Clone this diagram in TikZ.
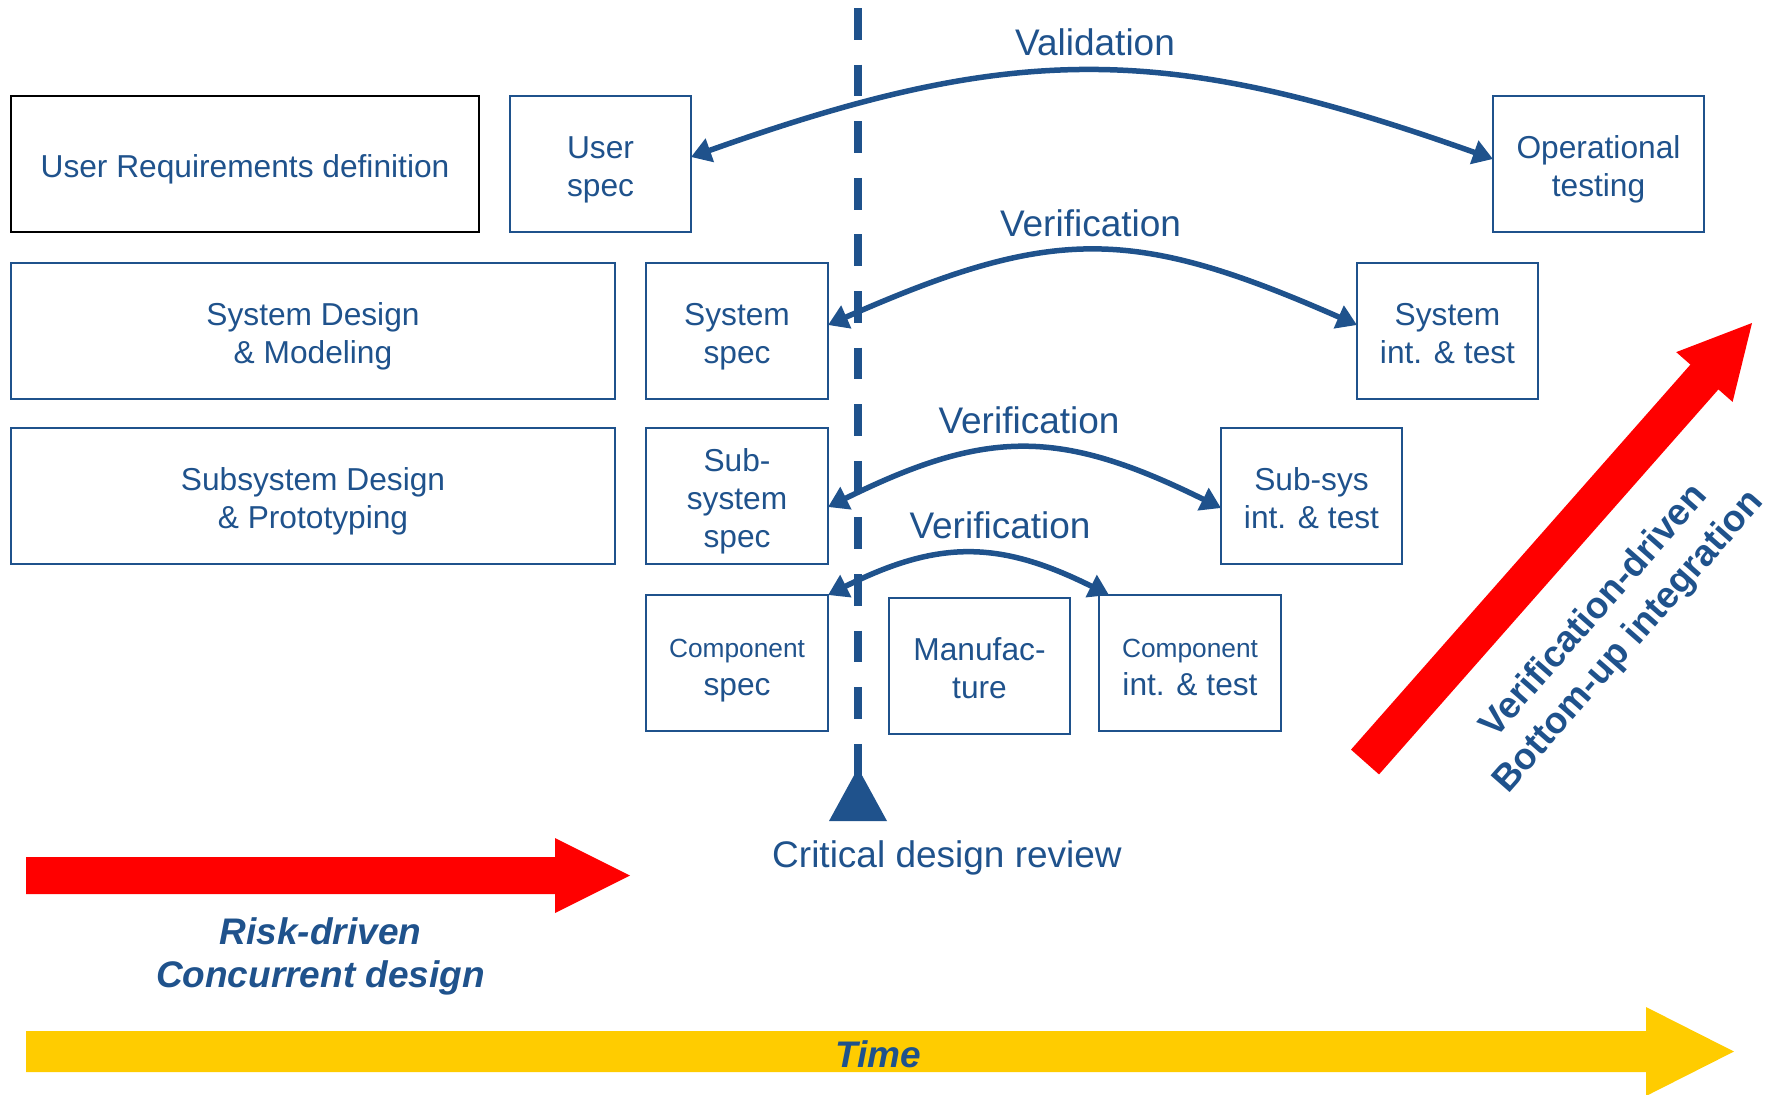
\documentclass[tikz,border=0pt]{standalone}
\usepackage{fontspec}
\setmainfont{Liberation Sans}
\usetikzlibrary{arrows.meta}
\definecolor{vblue}{RGB}{31,82,140}
\definecolor{vred}{RGB}{255,0,0}
\definecolor{vyellow}{RGB}{255,204,0}
\newcommand{\diagboxfont}{\fontsize{15.85}{19}\selectfont}
\newcommand{\diagsmallfont}{\fontsize{13.15}{18}\selectfont}
\newcommand{\diaglabelfont}{\fontsize{18.5}{22}\selectfont}
% fixed height of the first line and depth of the last one,
% so that every box centres its lines the same way
\newcommand{\topstrut}{\rule{0pt}{17.9pt}}
\newcommand{\botstrut}{\rule[-3.96pt]{0pt}{3.96pt}}
\begin{document}
\begin{tikzpicture}[x=0.5pt, y=-0.5pt,
  box/.style={draw=vblue, line width=1pt, text=vblue, align=center,
    inner sep=0pt, outer sep=0pt, minimum height=68pt, font=\diagboxfont},
  lbl/.style={text=vblue, inner sep=0pt, font=\diaglabelfont},
  emph/.style={text=vblue, inner sep=0pt, align=center,
    font=\fontsize{18.5}{21.5}\selectfont\bfseries\itshape},
  conn/.style={draw=vblue, line width=2.75pt,
    {Triangle[length=10pt, width=12pt]}-{Triangle[length=10pt, width=12pt]}},
  review/.style={draw=vblue, line width=3.75pt, dash pattern=on 15.85pt off 12.45pt}]
\useasboundingbox (0,0) rectangle (1777,1094);

% process boxes
\node[box, draw=black, line width=1.4pt, minimum width=234pt] (urd) at (245,164) {\topstrut User Requirements definition\botstrut};
\node[box, minimum width=90.5pt] (us) at (600.5,164) {\topstrut User\\spec\botstrut};
\node[box, minimum width=105.5pt] (op) at (1598.5,164) {\topstrut Operational\\testing\botstrut};
\node[box, minimum width=302pt] (sd) at (313,331) {\topstrut System Design\\\& Modeling\botstrut};
\node[box, minimum width=91pt] (syss) at (737,331) {\topstrut System\\spec\botstrut};
\node[box, minimum width=90.5pt] (sysit) at (1447.5,331) {\topstrut System\\int. \& test\botstrut};
\node[box, minimum width=302pt] (ssd) at (313,496) {\topstrut Subsystem Design\\\& Prototyping\botstrut};
\node[box, minimum width=91pt] (ss) at (737,496) {\topstrut Sub-\\system\\spec\botstrut};
\node[box, minimum width=90.5pt] (sit) at (1311.5,496) {\topstrut Sub-sys\\int. \& test\botstrut};
\node[box, minimum width=91pt] (cs) at (737,663) {\topstrut{\diagsmallfont Component}\\spec\botstrut};
\node[box, minimum width=90.5pt] (mf) at (979.5,666) {\topstrut Manufac-\\ture\botstrut};
\node[box, minimum width=91pt] (cit) at (1190,663) {\topstrut{\diagsmallfont Component}\\int. \& test\botstrut};

% critical design review marker
\coordinate (dtop) at (858,8);
\coordinate (dend) at (858,790);
\draw[review] (dtop) -- (dend);
\coordinate (tapex) at (858,768);
\coordinate (tleft) at (829,821);
\coordinate (tright) at (887,821);
\fill[vblue] (tapex) -- (tleft) -- (tright) -- cycle;
\node[lbl, anchor=base] (cdr) at (947,867) {Critical design review};

% validation / verification arcs
\draw[conn] ([yshift=3.5pt]us.east) .. controls +(326,-116) and +(-326,-116) .. ([yshift=2.5pt]op.west);
\draw[conn] ([yshift=3pt]syss.east) .. controls +(225,-99) and +(-225,-99) .. ([yshift=3pt]sysit.west);
\draw[conn] ([yshift=-5.5pt]ss.east) .. controls +(160,-79) and +(-160,-79) .. ([yshift=-6pt]sit.west);
\draw[conn] (cs.north east) .. controls +(110,-55) and +(-110,-55) .. ([xshift=5pt]cit.north west);

\node[lbl, anchor=base] (lval) at (1095,55) {Validation};
\node[lbl, anchor=base] (lver1) at (1090.5,236) {Verification};
\node[lbl, anchor=base] (lver2) at (1029,433) {Verification};
\node[lbl, anchor=base] (lver3) at (1000,538) {Verification};

% risk-driven arrow
\fill[vred] (26,857) -- (555,857) -- (555,838) -- (630,875.5) -- (555,913) -- (555,894) -- (26,894) -- cycle;
\node[emph] (risk) at (320.5,956) {Risk-driven\\Concurrent design};

% integration arrow
\fill[vred] (1351.0,749.6) -- (1690.4,364.6) -- (1676.2,352.1) -- (1752,323) -- (1732.6,401.9) -- (1718.4,389.4) -- (1379.0,774.4) -- cycle;
\node[text=vblue, inner sep=0pt, align=center, rotate=48.65,
  font=\fontsize{18.5}{23}\selectfont\bfseries] (integ) at (1612,627) {Verification-driven\\Bottom-up integration};

% time axis
\fill[vyellow] (26,1031) -- (1646,1031) -- (1646,1007) -- (1734,1051.5) -- (1646,1096) -- (1646,1072) -- (26,1072) -- cycle;
\node[emph, anchor=base] (time) at (878,1067) {Time};
\end{tikzpicture}
\end{document}
